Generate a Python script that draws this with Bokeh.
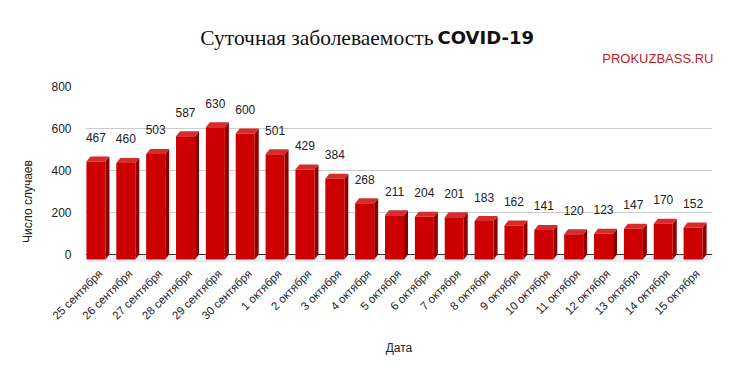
from bokeh.plotting import figure
from bokeh.layouts import column, row
from bokeh.models import Range1d, FixedTicker, ColumnDataSource
from bokeh.core.properties import value
from bokeh.embed import file_html
from bokeh.resources import INLINE
import math

dates = ["25 сентября", "26 сентября", "27 сентября", "28 сентября", "29 сентября",
         "30 сентября", "1 октября", "2 октября", "3 октября", "4 октября",
         "5 октября", "6 октября", "7 октября", "8 октября", "9 октября",
         "10 октября", "11 октября", "12 октября", "13 октября", "14 октября",
         "15 октября"]
cases = [467, 460, 503, 587, 630, 600, 501, 429, 384, 268, 211, 204, 201, 183,
         162, 141, 120, 123, 147, 170, 152]
y_ticks = [0, 200, 400, 600, 800]

FONT = "Liberation Sans"
TOTAL_W, TOTAL_H = 725, 366
HEAD_H = 70
LEFT_W = 40

# main chart geometry
W, H = TOTAL_W - LEFT_W, TOTAL_H - HEAD_H
BL, BR, BT, BB = 85 - LEFT_W, 13, 86 - HEAD_H, 104
FRAME_TOP = HEAD_H + BT
FRAME_BOT = TOTAL_H - BB


def blank(w, h, x0, x1, y0, y1, top=0, bottom=0):
    f = figure(width=w, height=h, output_backend="svg", toolbar_location=None,
               x_range=Range1d(x0, x1), y_range=Range1d(y0, y1),
               min_border=0, min_border_left=0, min_border_right=0,
               min_border_top=top, min_border_bottom=bottom)
    f.axis.visible = False
    f.grid.grid_line_color = None
    f.outline_line_color = None
    return f

# header (page pixel coordinates, y downward)
head = blank(TOTAL_W, HEAD_H, 0, TOTAL_W, HEAD_H, 0)
head.text(x=[433], y=[37], text=["Суточная заболеваемость"],
          text_font=value("Liberation Serif"), text_font_size="21.5px",
          text_align="right", text_baseline="alphabetic", text_color="#111111")
head.text(x=[437], y=[37], text=["COVID-19"],
          text_font=value("DejaVu Sans"), text_font_style="bold",
          text_font_size="18px", text_align="left", text_baseline="alphabetic",
          text_color="#111111")
head.text(x=[713], y=[58], text=["PROKUZBASS.RU"],
          text_font=value(FONT), text_font_size="13px",
          text_align="right", text_baseline="middle", text_color="#c0202a")

# left strip with the y-axis title (frame aligned with main frame)
left = blank(LEFT_W, H, 0, LEFT_W, FRAME_BOT, FRAME_TOP, top=BT, bottom=BB)
left.text(x=[27], y=[201], text=["Число случаев"], angle=math.pi / 2,
          text_font=value(FONT), text_font_size="12px",
          text_align="center", text_baseline="middle", text_color="#222222")

Y0, Y1 = -38, 800
X0, X1 = -0.5, len(dates) - 0.5
FW = W - BL - BR
FH = H - BT - BB
SX = FW / (X1 - X0)
SY = FH / (Y1 - Y0)

p = figure(width=W, height=H, output_backend="svg", toolbar_location=None,
           x_range=Range1d(X0, X1), y_range=Range1d(Y0, Y1),
           min_border_left=BL, min_border_right=BR, min_border_top=BT,
           min_border_bottom=BB)
p.outline_line_color = None

p.yaxis.ticker = FixedTicker(ticks=y_ticks)
p.yaxis.axis_line_color = None
p.yaxis.major_tick_line_color = None
p.yaxis.major_tick_out = 0
p.yaxis.minor_tick_line_color = None
p.yaxis.major_label_standoff = 14
p.yaxis.major_label_text_font = FONT
p.yaxis.major_label_text_font_size = "12px"
p.yaxis.major_label_text_color = "#222222"

p.xaxis.ticker = FixedTicker(ticks=list(range(len(dates))))
p.xaxis.major_label_overrides = {i: d for i, d in enumerate(dates)}
p.xaxis.major_label_orientation = math.pi / 4
p.xaxis.axis_line_color = None
p.xaxis.major_tick_line_color = None
p.xaxis.major_tick_out = 0
p.xaxis.minor_tick_line_color = None
p.xaxis.major_label_standoff = 9
p.xaxis.major_label_text_font = FONT
p.xaxis.major_label_text_font_size = "11.5px"
p.xaxis.major_label_text_color = "#222222"
p.xaxis.axis_label = "Дата"
p.xaxis.axis_label_text_font = FONT
p.xaxis.axis_label_text_font_size = "12px"
p.xaxis.axis_label_text_font_style = "normal"
p.xaxis.axis_label_text_color = "#222222"
p.xaxis.axis_label_standoff = 12

p.xgrid.grid_line_color = None
p.ygrid.ticker = FixedTicker(ticks=y_ticks)
p.ygrid.grid_line_color = "#cccccc"

dx = 4 / SX
dy = 5 / SY
half = 9.5 / SX
shift = 0.15
p.patch([X0 + 0.05, X1 - 0.15, X1, X0 + 0.05 + dx * 2],
        [Y0, Y0, 0, 0], fill_color="#eceff3", line_color=None)

p.line([X0, X1], [0, 0], line_color="#333333", line_width=1)

xs = [i - shift for i in range(len(cases))]
L = [x - half for x in xs]
R = [x + half for x in xs]
B = [-dy] * len(cases)
T = [v - dy for v in cases]

top_x = [[l, l + dx, r + dx, r] for l, r in zip(L, R)]
top_y = [[t, t + dy, t + dy, t] for t in T]
side_x = [[r, r, r + dx, r + dx] for r in R]
side_y = [[b, t, t + dy, b + dy] for b, t in zip(B, T)]

p.patches(side_x, side_y, fill_color="#8c0000", line_color=None)
p.patches(top_x, top_y, fill_color="#d62c2c", line_color=None)
p.quad(left=L, right=R, bottom=B, top=T, fill_color="#cc0000", line_color=None)

src = ColumnDataSource(dict(x=xs, y=cases, t=[str(v) for v in cases]))
p.text(x="x", y="y", text="t", source=src, y_offset=-19,
       text_align="center", text_baseline="middle",
       text_font=value(FONT), text_font_size="12px", text_color="#222222")

layout = column(head, row(left, p, spacing=0), spacing=0)
open("out.html", "w").write(file_html(layout, INLINE))
